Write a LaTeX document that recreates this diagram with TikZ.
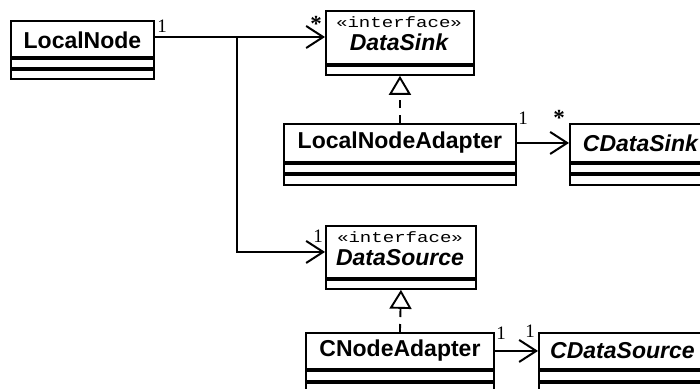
\documentclass[tikz,border=0pt]{standalone}
\usepackage{fontspec}
\setmainfont{Liberation Serif}
\setsansfont{Liberation Sans}
\setmonofont{Liberation Mono}
\newfontfamily\stereofont[FakeStretch=1.27]{Liberation Mono}
\usetikzlibrary{arrows.meta}
\tikzset{
  box/.style={draw, line width=1.9pt, inner sep=0pt, anchor=north west, fill=white},
  cname/.style={inner sep=0pt, font=\sffamily\bfseries\fontsize{23}{26}\selectfont},
  aname/.style={inner sep=0pt, font=\sffamily\bfseries\itshape\fontsize{23}{26}\selectfont},
  stereo/.style={inner sep=0pt, font=\stereofont\fontsize{15}{18}\selectfont},
  mult/.style={inner sep=0pt, font=\fontsize{19}{21}\selectfont},
  star/.style={inner sep=0pt, font=\bfseries\fontsize{23}{25}\selectfont},
  assoc/.style={line width=1.9pt, -{Straight Barb[length=17pt,width=22pt,line width=2pt]}},
  real/.style={line width=1.9pt, dash pattern=on 8pt off 7pt, -{Triangle[open,length=19pt,width=22pt,line width=1.9pt]}}
}
\begin{document}
\begin{tikzpicture}[x=1pt,y=-1pt]
\useasboundingbox (0,0) rectangle (700,388);
% LocalNode
\node[box, minimum width=143pt, minimum height=36pt] (ln) at (10,20) {};
\node[box, minimum width=143pt, minimum height=9pt] (ln1) at (ln.south west) {};
\node[box, minimum width=143pt, minimum height=9pt] (ln2) at (ln1.south west) {};
\node[cname] (lnt) at ([yshift=-1pt]ln.center) {LocalNode};
% DataSink
\node[box, minimum width=148pt, minimum height=53pt] (ds) at (325,10) {};
\node[box, minimum width=148pt, minimum height=9pt] (ds1) at (ds.south west) {};
\node[stereo, anchor=base] (dss) at (399,27) {«interface»};
\node[aname, anchor=base] (dst) at (399,50) {DataSink};
% LocalNodeAdapter
\node[box, minimum width=232pt, minimum height=38pt] (lna) at (283,123) {};
\node[box, minimum width=232pt, minimum height=9pt] (lna1) at (lna.south west) {};
\node[box, minimum width=232pt, minimum height=10pt] (lna2) at (lna1.south west) {};
\node[cname] (lnat) at (lna.center) {LocalNodeAdapter};
% CDataSink
\node[box, minimum width=141pt, minimum height=38pt] (cds) at (569,123) {};
\node[box, minimum width=141pt, minimum height=9pt] (cds1) at (cds.south west) {};
\node[box, minimum width=141pt, minimum height=10pt] (cds2) at (cds1.south west) {};
\node[aname] (cdst) at (cds.center) {CDataSink};
% DataSource
\node[box, minimum width=150pt, minimum height=52pt] (dsrc) at (325,225) {};
\node[box, minimum width=150pt, minimum height=9pt] (dsrc1) at (dsrc.south west) {};
\node[stereo, anchor=base] (dsrcs) at (400,242) {«interface»};
\node[aname, anchor=base] (dsrct) at (400,265) {DataSource};
% CNodeAdapter
\node[box, minimum width=188pt, minimum height=36pt] (cna) at (305,332) {};
\node[box, minimum width=188pt, minimum height=10pt] (cna1) at (cna.south west) {};
\node[box, minimum width=188pt, minimum height=10pt] (cna2) at (cna1.south west) {};
\node[cname] (cnat) at (cna.center) {CNodeAdapter};
% CDataSource
\node[box, minimum width=170pt, minimum height=36pt] (cdsrc) at (538,332) {};
\node[box, minimum width=170pt, minimum height=10pt] (cdsrc1) at (cdsrc.south west) {};
\node[box, minimum width=170pt, minimum height=10pt] (cdsrc2) at (cdsrc1.south west) {};
\node[aname, anchor=west] (cdsrct) at ([xshift=12pt]cdsrc.west) {CDataSource};
% connectors
\coordinate (j) at (237,37);
\draw[assoc] (ln.east |- 0,37) -- (ds.west |- 0,37);
\draw[assoc] (j) |- (dsrc.west);
\draw[real] (lna.north) -- (ds1.south);
\draw[real] (cna.north) -- (dsrc1.south);
\draw[assoc] (lna.east) -- (cds.west);
\draw[assoc] (cna.east) -- (cdsrc.west);
% multiplicities
\node[mult] (m1) at (162,26) {1};
\node[star] (m2) at (316,24) {*};
\node[mult] (m3) at (318,236) {1};
\node[mult] (m4) at (523,118) {1};
\node[star] (m5) at (559,118) {*};
\node[mult] (m6) at (501,333) {1};
\node[mult] (m7) at (530,331) {1};
\end{tikzpicture}
\end{document}
